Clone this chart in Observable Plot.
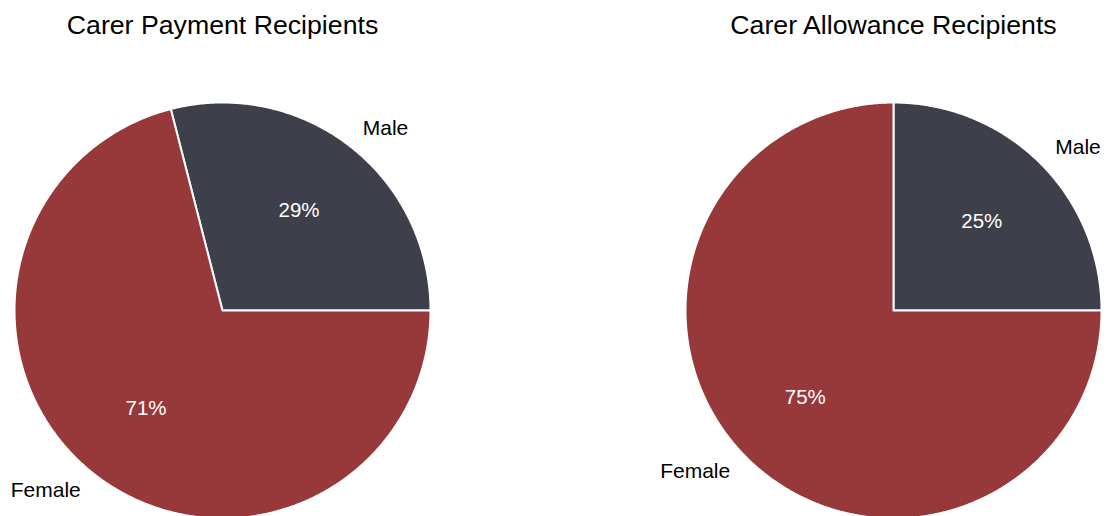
<!DOCTYPE html>
<html>
<head>
<meta charset="utf-8">
<script src="https://cdn.jsdelivr.net/npm/d3@7"></script>
<script src="https://cdn.jsdelivr.net/npm/@observablehq/plot@0.6"></script>
<style>
  html, body { margin: 0; padding: 0; background: #fff; }
  #chart svg { display: block; }
</style>
</head>
<body>
<div id="chart"></div>
<script>
// ---- data ----
const chartTitles = ["Carer Payment Recipients", "Carer Allowance Recipients"];
const categories = ["Male", "Female"];
const paymentShares = [29, 71];
const allowanceShares = [25, 75];
const categoryColors = ["#3d3f4b", "#97393a"];

// ---- layout (pixels) ----
const W = 1108, H = 516;
const R = 208;
const centers = [{cx: 222, cy: 310}, {cx: 893, cy: 310}];
const titleY = 25;
const FONT = "Liberation Sans, Arial, Helvetica, sans-serif";

const sharesByChart = [paymentShares, allowanceShares];

const polyPts = [];
const labels = [];
const pcts = [];
const titles = [];

sharesByChart.forEach((shares, ci) => {
  const {cx, cy} = centers[ci];
  const total = d3.sum(shares);
  let a0 = 0; // start at 3 o'clock, counter-clockwise
  titles.push({x: cx, y: titleY, text: chartTitles[ci]});
  shares.forEach((v, k) => {
    const span = v / total * 2 * Math.PI;
    const a1 = a0 + span;
    const id = ci + "-" + k;
    polyPts.push({id, cat: categories[k], x: cx, y: cy});
    const n = Math.max(2, Math.ceil(span / (Math.PI / 360)));
    for (let i = 0; i <= n; i++) {
      const a = a0 + span * i / n;
      polyPts.push({id, cat: categories[k], x: cx + R * Math.cos(a), y: cy - R * Math.sin(a)});
    }
    const mid = (a0 + a1) / 2;
    const right = Math.cos(mid) >= 0;
    const lx = cx + 1.1 * R * Math.cos(mid) + (right ? 0 : -1.5), ly = cy - 1.1 * R * Math.sin(mid) - 1.5;
    labels.push({x: lx, y: ly, text: categories[k], right});
    pcts.push({x: cx + 0.6 * R * Math.cos(mid), y: cy - 0.6 * R * Math.sin(mid) - 1, text: Math.round(v / total * 100) + "%"});
    a0 = a1;
  });
});

const plot = Plot.plot({
  width: W,
  height: H,
  margin: 0,
  x: {domain: [0, W], range: [0, W], axis: null},
  y: {domain: [0, H], range: [0, H], axis: null},
  color: {domain: categories, range: categoryColors},
  style: {fontFamily: FONT, background: "#fff"},
  marks: [
    Plot.line(polyPts, {x: "x", y: "y", z: "id", fill: "cat", stroke: "white", strokeWidth: 2, curve: "linear-closed", strokeLinejoin: "round"}),
    Plot.text(pcts, {x: "x", y: "y", text: "text", fill: "white", fontSize: 20.5, textAnchor: "middle"}),
    Plot.text(labels.filter(d => d.right), {x: "x", y: "y", text: "text", fill: "black", fontSize: 21, textAnchor: "start"}),
    Plot.text(labels.filter(d => !d.right), {x: "x", y: "y", text: "text", fill: "black", fontSize: 21, textAnchor: "end"}),
    Plot.text(titles, {x: "x", y: "y", text: "text", fill: "black", fontSize: 26.7, textAnchor: "middle"})
  ]
});
document.getElementById("chart").appendChild(plot);
</script>
</body>
</html>
